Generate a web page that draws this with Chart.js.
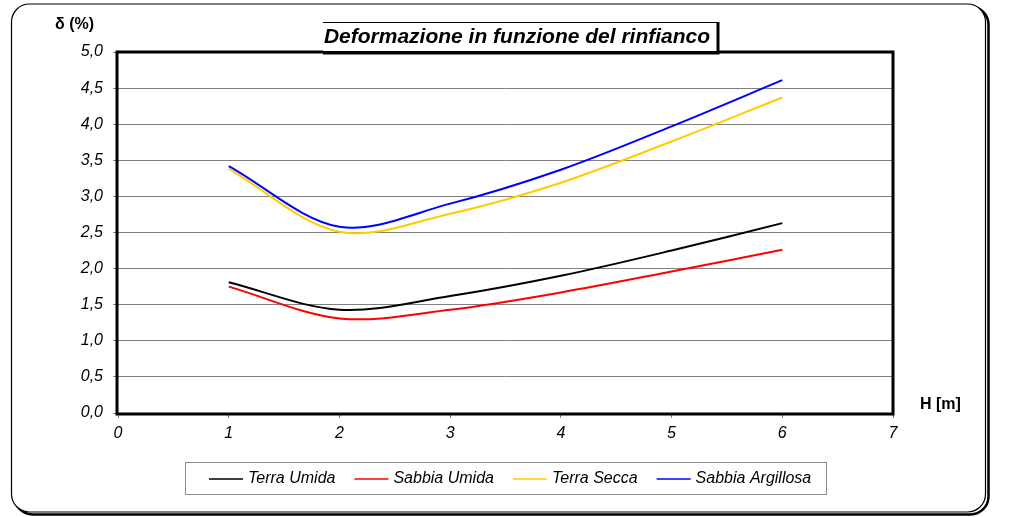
<!DOCTYPE html>
<html>
<head>
<meta charset="utf-8">
<title>Deformazione in funzione del rinfianco</title>
<script src="https://cdn.jsdelivr.net/npm/chart.js@4/dist/chart.umd.min.js"></script>
<style>
  html, body { margin: 0; padding: 0; background: #ffffff; }
  #wrap { width: 1012px; height: 517px; }
</style>
</head>
<body>
<div id="wrap"><canvas id="chart" width="1012" height="517"></canvas></div>
<script>
// Altezza del rinfianco H [m]
const heights = [1, 2, 3, 4, 5, 6];

// Deformazione δ (%) per tipo di terreno
const terraUmida = [1.81, 1.43, 1.62, 1.90, 2.25, 2.63];
const sabbiaUmida = [1.75, 1.31, 1.43, 1.67, 1.96, 2.26];
const terraSecca = [3.38, 2.51, 2.76, 3.19, 3.76, 4.37];
const sabbiaArgillosa = [3.42, 2.58, 2.90, 3.37, 3.97, 4.61];

const seriesNames = ['Terra Umida', 'Sabbia Umida', 'Terra Secca', 'Sabbia Argillosa'];
const seriesColors = ['#000000', '#ff0000', '#ffcc00', '#0000ff'];

const chartTitle = 'Deformazione in funzione del rinfianco';
const yTitle = 'δ (%)';
const xTitle = 'H [m]';

const FONT = '"Liberation Sans", Arial, Helvetica, sans-serif';

function toPoints(values) {
  return heights.map((h, i) => ({ x: h, y: values[i] }));
}

function roundRect(ctx, x, y, w, h, r) {
  ctx.beginPath();
  ctx.moveTo(x + r, y);
  ctx.lineTo(x + w - r, y);
  ctx.arcTo(x + w, y, x + w, y + r, r);
  ctx.lineTo(x + w, y + h - r);
  ctx.arcTo(x + w, y + h, x + w - r, y + h, r);
  ctx.lineTo(x + r, y + h);
  ctx.arcTo(x, y + h, x, y + h - r, r);
  ctx.lineTo(x, y + r);
  ctx.arcTo(x, y, x + r, y, r);
  ctx.closePath();
}

// Frame, plot border, title box, axis titles and legend
const decorations = {
  id: 'decorations',
  beforeDraw(chart) {
    const ctx = chart.ctx;
    ctx.save();
    ctx.fillStyle = '#ffffff';
    ctx.fillRect(0, 0, chart.width, chart.height);
    // shadow of the outer frame
    roundRect(ctx, 14.5, 6.5, 974, 508, 18);
    ctx.lineWidth = 2.5;
    ctx.strokeStyle = '#000000';
    ctx.stroke();
    // outer frame
    roundRect(ctx, 11.5, 4, 974, 508, 18);
    ctx.fillStyle = '#ffffff';
    ctx.fill();
    ctx.lineWidth = 1.2;
    ctx.strokeStyle = '#000000';
    ctx.stroke();
    ctx.restore();
  },
  afterDraw(chart) {
    const ctx = chart.ctx;
    const a = chart.chartArea;
    ctx.save();

    // thick plot border
    ctx.strokeStyle = '#000000';
    ctx.lineWidth = 3;
    ctx.strokeRect(a.left - 1, a.top, a.right - a.left + 1, a.bottom - a.top + 1);

    // title box with shadow
    const bx = 323, by = 22, bw = 394, bh = 29;
    ctx.fillStyle = '#ffffff';
    ctx.fillRect(bx, by, bw, bh);
    ctx.lineWidth = 1;
    ctx.beginPath();
    ctx.moveTo(bx, by + 0.5);
    ctx.lineTo(bx + bw, by + 0.5);
    ctx.stroke();
    ctx.lineWidth = 3;
    ctx.beginPath();
    ctx.moveTo(bx + bw + 1, by);
    ctx.lineTo(bx + bw + 1, by + bh + 3.5);
    ctx.moveTo(bx, by + bh + 2);
    ctx.lineTo(bx + bw + 2.5, by + bh + 2);
    ctx.stroke();
    ctx.fillStyle = '#000000';
    ctx.font = 'italic bold 21px ' + FONT;
    ctx.textAlign = 'center';
    ctx.textBaseline = 'middle';
    ctx.fillText(chartTitle, bx + bw / 2 - 3, by + 15);

    // axis titles
    ctx.font = 'bold 16px ' + FONT;
    ctx.textAlign = 'left';
    ctx.fillText(yTitle, 55, 25);
    ctx.fillText(xTitle, 920, 405);

    // legend
    const lx = 185.5, ly = 462.5, lw = 641, lh = 32;
    ctx.strokeStyle = '#8c8c8c';
    ctx.lineWidth = 1;
    ctx.strokeRect(lx, ly, lw, lh);
    ctx.font = 'italic 16px ' + FONT;
    ctx.textBaseline = 'middle';
    let x = 209;
    const cy = 479;
    chart.data.datasets.forEach(ds => {
      ctx.strokeStyle = ds.borderColor;
      ctx.lineWidth = 1.5;
      ctx.beginPath();
      ctx.moveTo(x, cy);
      ctx.lineTo(x + 34, cy);
      ctx.stroke();
      ctx.fillStyle = '#000000';
      ctx.fillText(ds.label, x + 39, cy);
      x += 39 + ctx.measureText(ds.label).width + 19;
    });

    ctx.restore();
  }
};

const datasets = [terraUmida, sabbiaUmida, terraSecca, sabbiaArgillosa].map((vals, i) => ({
  label: seriesNames[i],
  data: toPoints(vals),
  borderColor: seriesColors[i],
  backgroundColor: seriesColors[i],
  borderWidth: 2,
  pointRadius: 0,
  tension: 0.33,
  fill: false
}));

new Chart(document.getElementById('chart'), {
  type: 'line',
  data: { datasets },
  plugins: [decorations],
  options: {
    responsive: false,
    animation: false,
    devicePixelRatio: 1,
    layout: { padding: { top: 52, right: 119, left: 0, bottom: 0 } },
    plugins: {
      legend: { display: false },
      title: { display: false },
      tooltip: { enabled: false }
    },
    scales: {
      x: {
        type: 'linear',
        min: 0,
        max: 7,
        afterFit(scale) { scale.height = 104; },
        ticks: {
          stepSize: 1,
          color: '#000000',
          padding: 6,
          maxRotation: 0,
          font: { family: FONT, size: 16, style: 'italic' }
        },
        grid: { drawOnChartArea: false, drawTicks: true, tickLength: 5, color: '#808080' },
        border: { display: false }
      },
      y: {
        type: 'linear',
        min: 0,
        max: 5,
        afterFit(scale) { scale.width = 118; },
        ticks: {
          stepSize: 0.5,
          color: '#000000',
          padding: 10,
          font: { family: FONT, size: 16, style: 'italic' },
          callback: v => v.toFixed(1).replace('.', ',')
        },
        grid: { color: '#808080', lineWidth: 1, tickLength: 5 },
        border: { display: false }
      }
    }
  }
});
</script>
</body>
</html>
